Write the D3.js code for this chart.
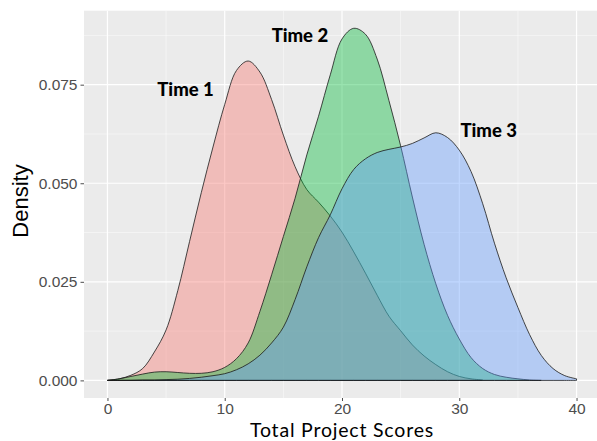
<!DOCTYPE html>
<html>
<head>
<meta charset="utf-8">
<script src="https://cdn.jsdelivr.net/npm/d3@7/dist/d3.min.js"></script>
<style>
  html, body { margin: 0; padding: 0; background: #fff; }
  svg { display: block; }
</style>
</head>
<body>
<svg id="chart" width="597" height="441"></svg>
<script>
// ---- data ----
const seriesNames = ["Time 1", "Time 2", "Time 3"];
const time1X = d3.range(0, 33);
const time1Y = [0, 0.0004, 0.0013, 0.0030, 0.0072, 0.0128, 0.0228, 0.0352, 0.0476, 0.0592,
  0.0700, 0.0786, 0.0810, 0.0782, 0.0712, 0.0622, 0.0542, 0.0484, 0.0452, 0.0417,
  0.0376, 0.0326, 0.0272, 0.0216, 0.0163, 0.0126, 0.0090, 0.0062, 0.0040, 0.0022,
  0.0010, 0.0004, 0.0001];
const time2X = d3.range(0, 38);
const time2Y = [0, 0.0004, 0.0010, 0.0016, 0.0021, 0.0022, 0.0020, 0.0018, 0.0018, 0.0022,
  0.0033, 0.0055, 0.0095, 0.0175, 0.0268, 0.0365, 0.0462, 0.0572, 0.0670, 0.0775,
  0.0866, 0.0893, 0.0878, 0.0815, 0.0710, 0.0595, 0.0465, 0.0345, 0.0245, 0.0165,
  0.0105, 0.0058, 0.0030, 0.0015, 0.0008, 0.0004, 0.0001, 0];
const time3X = d3.range(0, 41);
const time3Y = [0, 0.0000, 0.0000, 0.0001, 0.0001, 0.0002, 0.0003, 0.0005, 0.0008, 0.0012,
  0.0017, 0.0027, 0.0042, 0.0064, 0.0095, 0.0135, 0.0205, 0.0288, 0.0362, 0.0420,
  0.0486, 0.0535, 0.0562, 0.0578, 0.0586, 0.0592, 0.0601, 0.0615, 0.0628, 0.0616,
  0.0584, 0.0530, 0.0448, 0.0348, 0.0260, 0.0185, 0.0116, 0.0063, 0.0030, 0.0012,
  0.0004];
const xTicks = [0, 10, 20, 30, 40];
const yTicks = [0, 0.025, 0.05, 0.075];
const yTickLabels = ["0.000", "0.025", "0.050", "0.075"];
const labelPos = [[4.25, 0.0721], [14.0, 0.0857], [30.1, 0.0617]]; // label anchors (data units)

const colors = ["#F8766D", "#00BA38", "#619CFF"];

// ---- layout ----
const svg = d3.select("#chart");
const panel = { left: 84, right: 600, top: 10.7, bottom: 398 };

const x = d3.scaleLinear().domain([-2, 42]).range([panel.left, panel.right]);
const yMax = 0.0893;
const y = d3.scaleLinear().domain([-yMax * 0.05, yMax * 1.05]).range([panel.bottom, panel.top]);

// panel background
svg.append("rect")
  .attr("x", panel.left).attr("y", panel.top)
  .attr("width", panel.right - panel.left).attr("height", panel.bottom - panel.top)
  .attr("fill", "#EBEBEB");

const grid = svg.append("g");
// minor grid
[5, 15, 25, 35].forEach(v => grid.append("line")
  .attr("x1", x(v)).attr("x2", x(v)).attr("y1", panel.top).attr("y2", panel.bottom)
  .attr("stroke", "#fff").attr("stroke-width", 0.6).attr("opacity", 0.8));
[0.0125, 0.0375, 0.0625, 0.0875].forEach(v => grid.append("line")
  .attr("y1", y(v)).attr("y2", y(v)).attr("x1", panel.left).attr("x2", panel.right)
  .attr("stroke", "#fff").attr("stroke-width", 0.6).attr("opacity", 0.8));
// major grid
xTicks.forEach(v => grid.append("line")
  .attr("x1", x(v)).attr("x2", x(v)).attr("y1", panel.top).attr("y2", panel.bottom)
  .attr("stroke", "#fff").attr("stroke-width", 1.2));
yTicks.forEach(v => grid.append("line")
  .attr("y1", y(v)).attr("y2", y(v)).attr("x1", panel.left).attr("x2", panel.right)
  .attr("stroke", "#fff").attr("stroke-width", 1.2));

// densities
const allSeries = [
  time1X.map((v, i) => [v, time1Y[i]]),
  time2X.map((v, i) => [v, time2Y[i]]),
  time3X.map((v, i) => [v, time3Y[i]])
];
const area = d3.area()
  .x(d => x(d[0])).y0(y(0)).y1(d => y(Math.max(0, d[1])))
  .curve(d3.curveCatmullRom.alpha(0.5));

allSeries.forEach((s, i) => {
  svg.append("path")
    .datum(s)
    .attr("d", area)
    .attr("fill", colors[i])
    .attr("fill-opacity", 0.4)
    .attr("stroke", "#1a1a1a")
    .attr("stroke-width", 0.8)
    .attr("stroke-linejoin", "round");
});

// axes
const xAxis = d3.axisBottom(x).tickValues(xTicks).tickSize(3).tickPadding(2);
const gx = svg.append("g").attr("transform", `translate(0,${panel.bottom})`).call(xAxis);
gx.select(".domain").remove();
gx.selectAll(".tick line").attr("stroke", "#4d4d4d").attr("stroke-width", 1);
gx.selectAll(".tick text").attr("fill", "#4d4d4d")
  .style("font-family", "'Liberation Sans', Arial, sans-serif").style("font-size", "15.5px");

const yAxis = d3.axisLeft(y).tickValues(yTicks).tickFormat((d, i) => yTickLabels[i]).tickSize(3.5).tickPadding(3);
const gy = svg.append("g").attr("transform", `translate(${panel.left},0)`).call(yAxis);
gy.select(".domain").remove();
gy.selectAll(".tick line").attr("stroke", "#4d4d4d").attr("stroke-width", 1);
gy.selectAll(".tick text").attr("fill", "#4d4d4d")
  .style("font-family", "'Liberation Sans', Arial, sans-serif").style("font-size", "15.5px");

// axis titles
svg.append("text")
  .attr("x", (panel.left + 600) / 2).attr("y", 436.6)
  .attr("text-anchor", "middle")
  .style("font-family", "Lato, 'Open Sans', sans-serif").style("font-size", "19.5px")
  .style("letter-spacing", "0.8px")
  .attr("fill", "#000")
  .text("Total Project Scores");

svg.append("text")
  .attr("transform", `translate(27.5,201) rotate(-90)`)
  .attr("text-anchor", "middle")
  .style("font-family", "'Liberation Sans', Arial, sans-serif").style("font-size", "22px")
  .attr("fill", "#000")
  .text("Density");

// series labels
seriesNames.forEach((name, i) => {
  svg.append("text")
    .attr("x", x(labelPos[i][0])).attr("y", y(labelPos[i][1]))
    .attr("text-anchor", "start")
    .style("font-family", "Lato, 'Open Sans', sans-serif").style("font-weight", "900").style("font-size", "18.5px")
    .attr("fill", "#000")
    .text(name);
});
</script>
</body>
</html>
